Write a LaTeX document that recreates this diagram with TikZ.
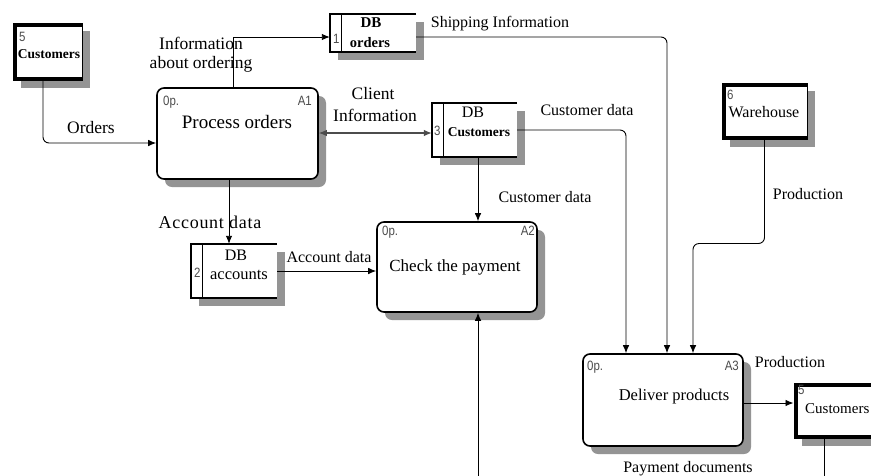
\documentclass[tikz,border=0pt]{standalone}
\usepackage{fontspec}
\setmainfont{Liberation Serif}
\setsansfont{Liberation Sans}
\newfontfamily\numfont{Liberation Sans}[FakeStretch=0.85]
\usetikzlibrary{arrows.meta,shadows}
\begin{document}
\begin{tikzpicture}[x=1pt,y=-1pt,
  shadowed/.style={drop shadow={shadow xshift=8pt,shadow yshift=-8pt,fill=black!42,opacity=1}},
  proc/.style={draw,line width=1.6pt,rounded corners=7pt,fill=white,inner sep=0pt,shadowed},
  ent/.style={draw,line width=1pt,fill=white,inner sep=0pt,shadowed},
  store/.style={fill=white,inner sep=0pt,shadowed},
  edge/.style={line width=1.6pt,line join=miter},
  thickedge/.style={line width=4pt,line join=miter},
  flow/.style={line width=0.9pt,-{Latex[length=8pt,width=6.5pt]}},
  biflow/.style={line width=1.1pt,draw=black!70,{Latex[length=8pt,width=6.5pt]}-{Latex[length=8pt,width=6.5pt]}},
  plain/.style={line width=0.9pt},
  num/.style={font=\numfont\fontsize{13.5}{15}\selectfont,text=black!70,inner sep=0pt},
  txt/.style={font=\fontsize{16}{19}\selectfont,inner sep=0pt},
  big/.style={font=\fontsize{17.5}{20}\selectfont,inner sep=0pt},
  boldtxt/.style={font=\bfseries\fontsize{13.5}{16}\selectfont,inner sep=0pt}
]
\useasboundingbox (0,0) rectangle (871,475);
\clip (0,0) rectangle (871,475);
\fill[white] (0,0) rectangle (871,475);

% ---- boxes ----
\node[proc,minimum width=161pt,minimum height=91pt] (A1) at (237.5,133.5) {};
\node[proc,minimum width=160pt,minimum height=90pt] (A2) at (457,267) {};
\node[proc,minimum width=160pt,minimum height=92pt] (A3) at (663,400) {};
\node[ent,minimum width=69pt,minimum height=57pt] (E5a) at (47.5,51.5) {};
\node[ent,minimum width=85pt,minimum height=56pt] (E6) at (764.5,111) {};
\node[ent,minimum width=86pt,minimum height=55pt] (E5b) at (837,410.5) {};
\node[store,minimum width=86pt,minimum height=38pt] (S1) at (373,33) {};
\node[store,minimum width=85pt,minimum height=54pt] (S3) at (474.5,130) {};
\node[store,minimum width=86pt,minimum height=54pt] (S2) at (234,271) {};

% entity thick borders
\foreach \e in {E5a,E6,E5b}{
  \draw[thickedge] ([yshift=-2pt]\e.north east) -- ([xshift=2pt,yshift=-2pt]\e.north west)
     -- ([xshift=2pt,yshift=2pt]\e.south west) -- ([yshift=2pt]\e.south east);
}
% store borders
\foreach \s in {S1,S3,S2}{
  \draw[edge] (\s.north east) -- (\s.north west) -- (\s.south west) -- (\s.south east);
  \draw[edge] ([xshift=11.5pt]\s.north west) -- ([xshift=11.5pt]\s.south west);
}

% ---- texts in boxes ----
\node[num,anchor=base west] (nA1a) at (163,105) {0p.};
\node[num,anchor=base east] (nA1b) at (312,105) {A1};
\node[font=\fontsize{19}{22}\selectfont,inner sep=0pt,anchor=base] (tA1) at (237,128) {Process orders};
\node[num,anchor=base west] (nA2a) at (382,235) {0p.};
\node[num,anchor=base east] (nA2b) at (535,235) {A2};
\node[font=\fontsize{17}{20}\selectfont,inner sep=0pt,anchor=base] (tA2) at (455,271) {Check the payment};
\node[num,anchor=base west] (nA3a) at (587,370) {0p.};
\node[num,anchor=base east] (nA3b) at (739,370) {A3};
\node[font=\fontsize{16.5}{20}\selectfont,inner sep=0pt,anchor=base] (tA3) at (674,400) {Deliver products};

\node[num,anchor=base west] (n5a) at (19,41) {5};
\node[boldtxt,anchor=base] (t5a) at (49,58) {Customers};
\node[num,anchor=base west] (n6) at (727,99) {6};
\node[txt,anchor=base] (t6) at (764,117) {Warehouse};
\node[num,anchor=base west] (n5b) at (798,394) {5};
\node[font=\fontsize{15}{18}\selectfont,inner sep=0pt,anchor=base west] (t5b) at (805,413) {Customers};

\node[num,anchor=base west] (n1) at (333,43) {1};
\node[font=\bfseries\fontsize{15}{18}\selectfont,inner sep=0pt,anchor=base] (tS1a) at (371,27) {DB};
\node[font=\bfseries\fontsize{14.5}{17}\selectfont,inner sep=0pt,anchor=base] (tS1b) at (370,47) {orders};
\node[num,anchor=base west] (n3) at (434,135) {3};
\node[txt,anchor=base] (tS3a) at (473,117) {DB};
\node[boldtxt,anchor=base] (tS3b) at (479,136) {Customers};
\node[num,anchor=base west] (n2) at (194,277) {2};
\node[txt,anchor=base] (tS2a) at (236,260) {DB};
\node[font=\fontsize{16.5}{20}\selectfont,inner sep=0pt,anchor=base] (tS2b) at (239,279) {accounts};

% ---- connectors ----
\coordinate (pb) at (478,480);
\coordinate (pc) at (824,480);

\draw[flow,rounded corners=6pt] ([xshift=-4.5pt]E5a.south) |- ([yshift=-9.5pt]A1.west);
\draw[flow] ([xshift=-4.5pt]A1.north) |- ([yshift=-4pt]S1.west);
\draw[flow,rounded corners=6pt] ([yshift=-4pt]S1.east) -| ([xshift=4pt]A3.north);
\draw[biflow] (A1.east |- 0,133) -- (S3.west |- 0,133);
\draw[flow,rounded corners=6pt] (S3.east) -| ([xshift=-37pt]A3.north);
\draw[flow] ([xshift=3.5pt]S3.south) -- ([xshift=3.5pt]S3.south |- A2.north);
\draw[flow] ([xshift=-8.5pt]A1.south) -- ([xshift=-8.5pt]A1.south |- S2.north);
\draw[flow] (S2.east) -- (S2.east -| A2.west);
\draw[flow] (pb) -- (pb |- A2.south);
\draw[flow,rounded corners=6pt] (E6.south) -- ++(0,104) -| ([xshift=30pt]A3.north);
\draw[flow] ([yshift=-3pt]A3.east) -- ([yshift=-3pt]A3.east -| E5b.west);
\draw[plain] ([xshift=-13pt]E5b.south) -- (pc);

% ---- connector labels ----
\node[big,anchor=base] (l1) at (91,133) {Orders};
\node[big,anchor=base] (l2a) at (201,49) {Information};
\node[big,anchor=base] (l2b) at (201,68) {about ordering};
\node[txt,anchor=base] (l3) at (500,27) {Shipping Information};
\node[big,anchor=base] (l4a) at (373,99) {Client};
\node[big,anchor=base] (l4b) at (375,121) {Information};
\node[txt,anchor=base] (l5) at (587,115) {Customer data};
\node[txt,anchor=base] (l6) at (545,202) {Customer data};
\node[font=\fontsize{18}{21}\selectfont\addfontfeature{LetterSpace=4},inner sep=0pt,anchor=base] (l7) at (210,228) {Account data};
\node[txt,anchor=base] (l8) at (329,262) {Account data};
\node[txt,anchor=base] (l9) at (808,199) {Production};
\node[txt,anchor=base] (l10) at (790,367) {Production};
\node[txt,anchor=base] (l11) at (688,472) {Payment documents};
\end{tikzpicture}
\end{document}
